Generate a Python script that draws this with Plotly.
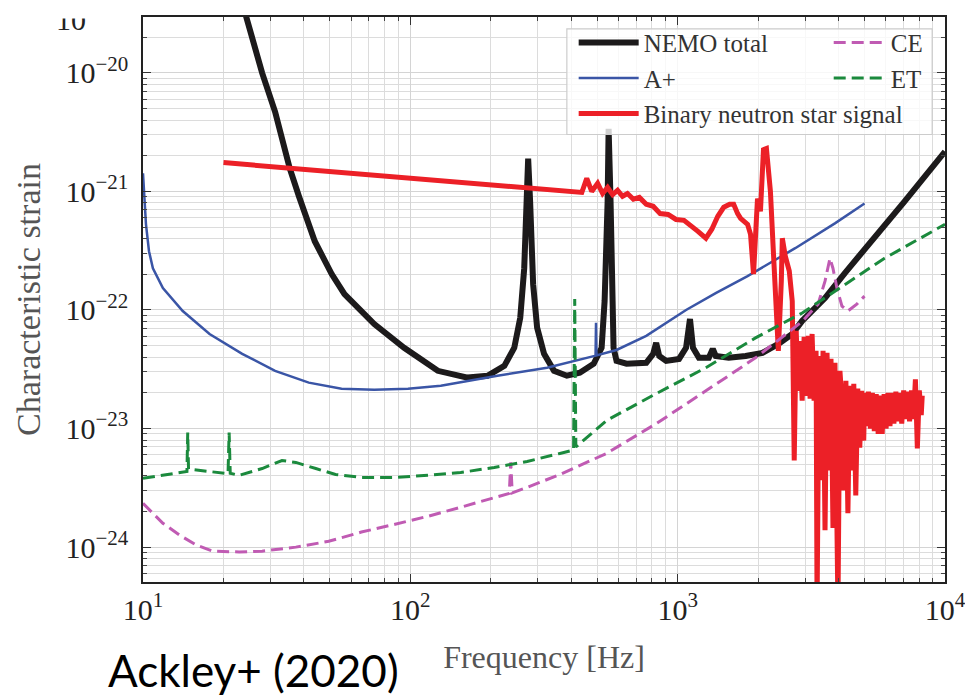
import plotly.graph_objects as go

# ---------------- data ----------------
nemo_f = [22, 24.3, 27.9, 31.2, 33.4, 35.4, 38.3, 43.9, 50.8, 56.7,
          73.3, 94.8, 126.7, 163.8, 194.3, 224.7, 244.8, 257.7, 266.7, 273.5,
          275.9, 280.6, 288, 298, 316.4, 344.6, 385, 430.5, 485.2, 519.5,
          533, 547, 551.7, 561, 570.8, 575.7, 590.6, 643.6, 763, 810,
          831, 853, 905.6, 1012, 1075, 1112, 1141, 1201, 1308, 1353,
          1388, 1552, 1795, 2076, 2380, 2682, 2923, 3557, 4221, 5317,
          7050, 10000]
nemo_h = [6.6e-20, 2.96e-20, 1.0e-20, 4.7e-21, 2.63e-21, 1.56e-21, 9.1e-22, 3.8e-22, 2.01e-22, 1.36e-22,
          7.6e-23, 4.8e-23, 3.07e-23, 2.69e-23, 2.79e-23, 3.38e-23, 4.8e-23, 8.6e-23, 2.25e-22, 8.2e-22,
          1.89e-21, 8.2e-22, 1.65e-22, 7.1e-23, 4.27e-23, 3.07e-23, 2.79e-23, 2.96e-23, 3.52e-23, 4.8e-23,
          1.19e-22, 8.2e-22, 3.38e-21, 8.2e-22, 1.19e-22, 4.8e-23, 3.72e-23, 3.52e-23, 3.59e-23, 4.27e-23,
          5.28e-23, 4.1e-23, 3.72e-23, 3.87e-23, 4.8e-23, 8.4e-23, 4.8e-23, 3.95e-23, 3.95e-23, 4.7e-23,
          4.1e-23, 3.95e-23, 4.1e-23, 4.35e-23, 5.18e-23, 6.28e-23, 8.1e-23, 1.26e-22, 2.05e-22, 3.8e-22,
          8.2e-22, 2.17e-21]

aplus_f = [10, 10.09, 10.26, 10.53, 10.89, 11.87, 14.08, 17.74, 23.5, 31.2,
           41.7, 55.3, 73.3, 98, 130, 211.7, 324.6, 489.5, 493, 495,
           497, 590.6, 763, 1075, 1388, 1826, 2752, 3874, 5000]
aplus_h = [1.42e-21, 9.1e-22, 5.28e-22, 3.13e-22, 2.25e-22, 1.53e-22, 9.8e-23, 6.28e-23, 4.27e-23, 3.07e-23,
           2.44e-23, 2.17e-23, 2.13e-23, 2.17e-23, 2.3e-23, 2.79e-23, 3.26e-23, 4.1e-23, 4.12e-23, 7.8e-23,
           4.14e-23, 4.6e-23, 6.05e-23, 1.0e-22, 1.39e-22, 1.93e-22, 3.32e-22, 5.38e-22, 7.9e-22]

bns_f = [20, 438, 457, 477, 502, 524, 547, 571, 596, 622,
         649, 683, 719, 763, 810, 860, 921, 986, 1056, 1121,
         1191, 1275, 1342, 1413, 1487, 1565, 1620, 1676, 1719, 1826,
         1873, 1922, 1989, 2040, 2094, 2148, 2223, 2280, 2340, 2380,
         2442, 2463, 2527, 2615, 2683, 2729, 2776, 2824, 2872, 2922,
         2972, 3024, 3076, 3129, 3183, 3238, 3294, 3322, 3380, 3438,
         3498, 3558, 3620, 3681, 3746, 3810, 3876, 3943, 3977, 4046,
         4116, 4187, 4259, 4333, 4405, 4481, 4559, 4637, 4717, 4799,
         4881, 4966, 5005, 5085, 5170, 5260, 5350, 5440, 5530, 5625,
         5720, 5820, 5920, 6020, 6120, 6225, 6330, 6440, 6550, 6660,
         6775, 6890, 7005, 7125, 7245, 7370, 7495, 7620, 7750, 7880,
         8015, 8150, 8220]
bns_h = [1.75e-21, 9.8e-22, 1.29e-21, 1.0e-21, 1.17e-21, 9.6e-22, 1.08e-21, 9.4e-22, 1.02e-21, 9.1e-22,
         9.6e-22, 8.6e-22, 8.9e-22, 7.8e-22, 7.5e-22, 6.5e-22, 6.4e-22, 5.8e-22, 5.7e-22, 5.18e-22,
         4.6e-22, 4.03e-22, 4.8e-22, 6.17e-22, 7.35e-22, 7.8e-22, 7.8e-22, 6.5e-22, 5.93e-22, 5.28e-22,
         4.35e-22, 2.01e-22, 8.7e-22, 6.8e-22, 2.25e-21, 2.3e-21, 1.0e-21, 3.13e-22, 9.8e-23, 4.52e-23,
         1.75e-22, 4.03e-22, 2.84e-22, 2.13e-22, 1.19e-22, 5.38e-24, 6.67e-23, 2.08e-23, 5.48e-23, 1.72e-23,
         5.93e-23, 1.89e-23, 6.05e-23, 1.79e-23, 6.28e-23, 1.72e-23, 4.52e-23, 3.0e-25, 4.1e-23, 3.66e-24,
         4.52e-23, 1.39e-24, 4.35e-23, 4.43e-24, 3.87e-23, 1.45e-24, 3.59e-23, 4.43e-24, 3.0e-25, 3.07e-23,
         1.72e-23, 3.01e-24, 2.53e-23, 1.93e-24, 2.3e-23, 4.43e-24, 2.39e-23, 2.73e-24, 2.17e-23, 6.9e-24,
         2.08e-23, 7.9e-24, 2.0e-23, 1.05e-23, 2.05e-23, 1.0e-23, 2.0e-23, 9.5e-24, 1.95e-23, 9.0e-24,
         1.9e-23, 9.0e-24, 1.95e-23, 1.0e-23, 2.0e-23, 1.05e-23, 2.0e-23, 1.1e-23, 2.05e-23, 1.15e-23,
         2.0e-23, 1.1e-23, 2.1e-23, 1.2e-23, 2.05e-23, 1.15e-23, 2.1e-23, 1.2e-23, 2.6e-23, 6.8e-24,
         2.1e-23, 1.3e-23, 1.9e-23]

ce_f = [10, 11.87, 13.72, 15.85, 18.2, 22.9, 27.9, 37.3, 49.5, 65.6,
        87.7, 116.3, 154.3, 206, 234.5, 237.5, 240.5, 273.5, 362.7, 542,
        831, 1275, 1955, 2923, 3351, 3558, 3713, 3809, 3943, 4116,
        4331, 4677, 5000]
ce_h = [2.34e-24, 1.59e-24, 1.26e-24, 1.04e-24, 9.25e-25, 9.1e-25, 9.25e-25, 1.0e-24, 1.12e-24, 1.34e-24,
        1.56e-24, 1.82e-24, 2.17e-24, 2.63e-24, 2.84e-24, 5.18e-24, 2.87e-24, 3.19e-24, 4.1e-24, 6.17e-24,
        1.1e-23, 2.08e-23, 3.95e-23, 8.0e-23, 1.12e-22, 1.75e-22, 2.73e-22, 2.25e-22, 1.53e-22, 1.08e-22,
        9.8e-23, 1.12e-22, 1.31e-22]

et_f = [10, 11.87, 14.6, 14.7, 14.8, 20.5, 20.8, 21.0, 21.2, 22.9,
        27.9, 33.1, 37.3, 44.3, 52.5, 65.6, 87.7, 116.3, 154.3, 206,
        273.5, 362.7, 408, 412, 416, 542, 831, 1275, 1955, 2923,
        3876, 5941, 10000]
et_h = [3.8e-24, 4.03e-24, 4.35e-24, 9.25e-24, 4.55e-24, 4.18e-24, 4.18e-24, 9.25e-24, 4.2e-24, 4.03e-24,
        4.6e-24, 5.38e-24, 5.18e-24, 4.6e-24, 4.1e-24, 3.87e-24, 3.87e-24, 4.03e-24, 4.26e-24, 4.7e-24,
        5.28e-24, 6.17e-24, 6.6e-24, 1.24e-22, 7.0e-24, 1.17e-23, 1.97e-23, 3.26e-23, 5.82e-23, 9.44e-23,
        1.45e-22, 2.73e-22, 5.28e-22]

x_tickvals = [10, 100, 1000, 10000]
x_ticktext = ["10<sup>1</sup>", "10<sup>2</sup>", "10<sup>3</sup>", "10<sup>4</sup>"]
y_tickvals = [1e-24, 1e-23, 1e-22, 1e-21, 1e-20]
y_ticktext = ["10<sup>\u221224</sup>", "10<sup>\u221223</sup>", "10<sup>\u221222</sup>",
              "10<sup>\u221221</sup>", "10<sup>\u221220</sup>"]

SERIF = "Liberation Serif"

# page has an 8px body margin; figure is sized/positioned to compensate
W, H = 965, 687
ML, MR, MT, MB = 135, 22, 7, 113
PW, PH = W - ML - MR, H - MT - MB


def px(fx):
    return (fx - ML) / PW


def py(fy):
    return (H - MB - fy) / PH


fig = go.Figure()
fig.add_trace(go.Scatter(x=nemo_f, y=nemo_h, mode="lines", name="NEMO total",
                         line=dict(color="#1c1a1b", width=6), legend="legend"))
fig.add_trace(go.Scatter(x=aplus_f, y=aplus_h, mode="lines", name="A+",
                         line=dict(color="#3a55a6", width=2.5), legend="legend"))
fig.add_trace(go.Scatter(x=bns_f, y=bns_h, mode="lines", name="Binary neutron star signal",
                         line=dict(color="#ec2027", width=5), legend="legend"))
fig.add_trace(go.Scatter(x=ce_f, y=ce_h, mode="lines", name="CE",
                         line=dict(color="#c05bb3", width=3, dash="12px,6px"), legend="legend2"))
fig.add_trace(go.Scatter(x=et_f, y=et_h, mode="lines", name="ET",
                         line=dict(color="#1b8a3d", width=3, dash="12px,6px"), legend="legend2"))

axis_common = dict(
    type="log", showline=True, linecolor="#222", linewidth=1.5, mirror="allticks",
    ticks="inside", ticklen=8, tickwidth=1.2, tickcolor="#333",
    showgrid=True, gridcolor="#d4d4d4", gridwidth=1.2, zeroline=False,
    tickfont=dict(family=SERIF, size=30, color="#222"),
    minor=dict(dtick="D1", ticks="inside", ticklen=4, tickwidth=1, tickcolor="#444",
               showgrid=True, gridcolor="#dcdcdc", gridwidth=1.2),
)

fig.update_layout(
    width=W, height=H,
    margin=dict(l=ML, r=MR, t=MT, b=MB),
    paper_bgcolor="white", plot_bgcolor="white",
    showlegend=True,
    xaxis=dict(axis_common, range=[1, 4], tickmode="array", tickvals=x_tickvals, ticktext=x_ticktext,
               ticklabelstandoff=0,
               title=dict(text="Frequency [Hz]", font=dict(family=SERIF, size=32, color="#555"), standoff=21)),
    yaxis=dict(axis_common, range=[-24.294, -19.529], tickmode="array", tickvals=y_tickvals, ticktext=y_ticktext,
               ticklabelstandoff=7,
               title=dict(text="Characteristic strain", font=dict(family=SERIF, size=34, color="#555"), standoff=15)),
    legend=dict(x=0.537, y=0.995, xanchor="left", yanchor="top", bgcolor="rgba(0,0,0,0)",
                font=dict(family=SERIF, size=25, color="#333"), itemwidth=60, tracegroupgap=0),
    legend2=dict(x=0.855, y=0.995, xanchor="left", yanchor="top", bgcolor="rgba(0,0,0,0)",
                 font=dict(family=SERIF, size=25, color="#333"), itemwidth=52, tracegroupgap=0),
    shapes=[dict(type="rect", xref="paper", yref="paper", x0=0.5285, x1=0.984, y0=0.792, y1=0.979,
                 fillcolor="rgba(255,255,255,0.8)", line=dict(color="#cccccc", width=1.2), layer="above")],
    annotations=[
        dict(text="Ackley+ (2020)", xref="paper", yref="paper", x=px(98), y=py(662),
             xanchor="left", yanchor="middle", showarrow=False,
             font=dict(family="Lato", size=44, color="black")),
        dict(text="10", xref="paper", yref="paper", x=px(80), y=py(9.5),
             xanchor="right", yanchor="middle", showarrow=False,
             font=dict(family=SERIF, size=30, color="#222")),
        dict(text=" ", xref="paper", yref="paper", x=px(30), y=py(-4),
             xanchor="left", yanchor="top", showarrow=False, width=90, height=9,
             bgcolor="white", font=dict(size=6)),
    ],
)

fig.write_html("out.html")
